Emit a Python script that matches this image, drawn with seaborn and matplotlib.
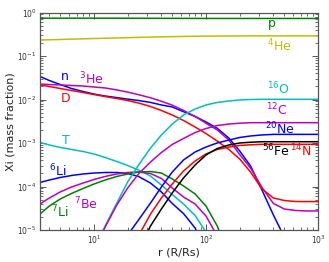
import numpy as np
import pandas as pd
import matplotlib
matplotlib.use("Agg")
import matplotlib.pyplot as plt
import seaborn as sns

# ---- data ----
r = [3.3, 4, 5, 6.3, 8, 10, 12.6, 16, 20, 25, 32, 40, 50, 63, 80, 100, 126, 160,
     200, 250, 316, 400, 500, 630, 800, 1000]
nan = np.nan
X_p = [0.74, 0.74, 0.74, 0.74, 0.74, 0.74, 0.74, 0.74, 0.738, 0.737, 0.736, 0.735, 0.734,
       0.733, 0.732, 0.731, 0.73, 0.73, 0.73, 0.73, 0.73, 0.73, 0.73, 0.73, 0.73, 0.73]
X_he4 = [0.233, 0.236, 0.240, 0.244, 0.248, 0.252, 0.256, 0.260, 0.264, 0.268, 0.272, 0.276,
         0.279, 0.282, 0.284, 0.286, 0.287, 0.288, 0.289, 0.29, 0.29, 0.29, 0.29, 0.29, 0.29, 0.29]
X_n = [0.0338, 0.0273, 0.0221, 0.0179, 0.0153, 0.01334, 0.01203, 0.01105, 0.0102, 0.00948,
       0.00856, 0.00749, 0.00673, 0.00525, 0.00407, 0.00305, 0.00218, 0.0013, 6.55e-4,
       2.96e-4, 8.3e-5, 2.21e-5, 6.9e-6, 2.0e-6, nan, nan]
X_he3 = [0.0227, 0.0221, 0.0216, 0.021, 0.0204, 0.0194, 0.0184, 0.0166, 0.0148, 0.0129,
         0.01096, 0.00912, 0.00741, 0.00562, 0.00407, 0.00285, 0.0020, 0.00117, 5.44e-4,
         2.66e-4, 9.5e-5, 4.07e-5, 3.04e-5, 2.81e-5, 2.74e-5, 2.74e-5]
X_d = [0.0216, 0.0199, 0.0179, 0.0161, 0.0145, 0.0130, 0.0117, 0.01054, 0.00948, 0.00831,
       0.0069, 0.00559, 0.0044, 0.00329, 0.00233, 0.00165, 0.00111, 7.1e-4, 4.29e-4,
       2.15e-4, 8.8e-5, 5.44e-5, 4.77e-5, 4.52e-5, 4.5e-5, 4.5e-5]
X_t = [1.03e-3, 9.0e-4, 7.9e-4, 7.1e-4, 6.38e-4, 5.59e-4, 4.64e-4, 3.76e-4, 3.04e-4, 2.39e-4,
       1.74e-4, 1.08e-4, 6.55e-5, 3.96e-5, 2.15e-5, 9.0e-6, 2.04e-6, nan, nan, nan, nan,
       nan, nan, nan, nan, nan]
X_li6 = [1.24e-4, 1.41e-4, 1.61e-4, 1.79e-4, 1.94e-4, 2.04e-4, 2.10e-4, 2.10e-4, 1.99e-4,
         1.70e-4, 1.20e-4, 7.48e-5, 4.07e-5, 2.39e-5, 1.11e-5, 3.1e-6, nan, nan, nan, nan,
         nan, nan, nan, nan, nan, nan]
X_be7 = [3.96e-5, 5.44e-5, 7.48e-5, 9.75e-5, 1.20e-4, 1.45e-4, 1.70e-4, 1.94e-4, 2.10e-4,
         2.15e-4, 1.99e-4, 1.53e-4, 9.24e-5, 5.74e-5, 3.96e-5, 2.10e-5, 7.3e-6, nan, nan,
         nan, nan, nan, nan, nan, nan, nan]
X_li7 = [2.33e-5, 3.56e-5, 5.16e-5, 6.9e-5, 9.0e-5, 1.14e-4, 1.41e-4, 1.70e-4, 1.94e-4,
         2.15e-4, 2.21e-4, 2.04e-4, 1.49e-4, 1.03e-4, 6.73e-5, 3.56e-5, 1.24e-5, 2.66e-6,
         nan, nan, nan, nan, nan, nan, nan, nan]
X_o16 = [nan, nan, nan, nan, nan, 3.5e-6, 1.24e-5, 4.18e-5, 1.27e-4, 3.12e-4, 7.67e-4,
         1.53e-3, 2.73e-3, 4.4e-3, 6.05e-3, 7.48e-3, 8.54e-3, 9.24e-3, 9.75e-3, 0.0100,
         0.0101, 0.0101, 0.0101, 0.0101, 0.0101, 0.0101]
X_c12 = [nan, nan, nan, nan, nan, 3.5e-6, 1.17e-5, 3.76e-5, 9.24e-5, 1.94e-4, 3.66e-4,
         6.05e-4, 9.25e-4, 1.27e-3, 1.74e-3, 2.15e-3, 2.52e-3, 2.73e-3, 2.85e-3, 2.93e-3,
         2.93e-3, 2.93e-3, 2.93e-3, 2.93e-3, 2.93e-3, 2.93e-3]
X_ne20 = [nan, nan, nan, nan, nan, nan, nan, nan, 7.7e-6, 1.70e-5, 4.18e-5, 9.75e-5,
          2.15e-4, 4.07e-4, 6.21e-4, 8.09e-4, 1.0e-3, 1.17e-3, 1.34e-3, 1.45e-3, 1.53e-3,
          1.58e-3, 1.58e-3, 1.58e-3, 1.58e-3, 1.58e-3]
X_n14 = [nan, nan, nan, nan, nan, nan, nan, nan, nan, 7.3e-6, 2.33e-5, 5.44e-5, 1.14e-4,
         2.27e-4, 3.86e-4, 5.59e-4, 7.1e-4, 8.09e-4, 8.77e-4, 9.1e-4, 9.33e-4, 9.33e-4,
         9.33e-4, 9.33e-4, 9.33e-4, 9.33e-4]
X_fe56 = [nan, nan, nan, nan, nan, nan, nan, nan, nan, 3.5e-6, 1.24e-5, 3.04e-5, 7.1e-5,
          1.57e-4, 3.12e-4, 5.3e-4, 7.48e-4, 9.0e-4, 1.0e-3, 1.04e-3, 1.07e-3, 1.07e-3,
          1.07e-3, 1.07e-3, 1.07e-3, 1.07e-3]

species = ["p", "He4", "n", "He3", "D", "T", "Li6", "Be7", "Li7", "O16", "C12", "Ne20",
           "N14", "Fe56"]
values = [X_p, X_he4, X_n, X_he3, X_d, X_t, X_li6, X_be7, X_li7, X_o16, X_c12, X_ne20,
          X_n14, X_fe56]
colors = {"p": "g", "He4": "y", "n": "b", "He3": "m", "D": "r", "T": "c",
          "Li6": "b", "Be7": "m", "Li7": "g", "O16": "c", "C12": "m", "Ne20": "b",
          "N14": "r", "Fe56": "k"}

frames = [pd.DataFrame({"r": r, "X": v, "species": s}) for s, v in zip(species, values)]
df = pd.concat(frames, ignore_index=True).dropna()

# ---- figure ----
sns.set_style("ticks")
plt.rcParams["font.family"] = ["DejaVu Sans"]
fig = plt.figure(figsize=(3.29, 2.62), dpi=100)
ax = fig.add_axes([40 / 329, 32 / 262, 278 / 329, 217.5 / 262])
ax.set_xscale("log")
ax.set_yscale("log")

pal = {s: matplotlib.colors.to_hex(colors[s]) for s in species}
sns.lineplot(data=df, x="r", y="X", hue="species", units="species", estimator=None,
             sort=False, palette=pal, legend=False, linewidth=1.1, ax=ax)

ax.set_xlim(3.3, 1000)
ax.set_ylim(1e-5, 1)
ax.set_xlabel("r (R/Rs)", fontsize=8, color="#222222", labelpad=1)
ax.set_ylabel("Xi (mass fraction)", fontsize=8, color="#222222", labelpad=1)

for sp in ax.spines.values():
    sp.set_color("#555555")
    sp.set_linewidth(0.9)
ax.tick_params(which="both", direction="in", top=True, right=True, colors="#555555",
               labelcolor="#333333", labelsize=5.5, pad=2.5)
ax.tick_params(which="major", length=4.5, width=0.7)
ax.tick_params(which="minor", length=2.2, width=0.6)
ax.yaxis.set_minor_locator(matplotlib.ticker.LogLocator(base=10, subs=np.arange(2, 10), numticks=20))
ax.xaxis.set_minor_locator(matplotlib.ticker.LogLocator(base=10, subs=np.arange(2, 10), numticks=20))

def px(x, y):
    return ((x - 40) / 278, (230 - y) / 217.5)

labels = [
    ("p", "g", 272, 23),
    (r"$^{4}$He", "y", 279, 46),
    (r"$^{16}$O", "c", 278, 89),
    (r"$^{12}$C", "m", 277, 110),
    (r"$^{20}$Ne", "b", 280, 129),
    (r"$^{56}$Fe", "k", 276, 151),
    (r"$^{14}$N", "r", 301, 151),
    ("n", "b", 65, 76),
    (r"$^{3}$He", "m", 91, 79),
    ("D", "r", 66, 98),
    ("T", "c", 66, 141),
    (r"$^{6}$Li", "b", 58, 171),
    (r"$^{7}$Be", "m", 86, 204),
    (r"$^{7}$Li", "g", 60, 212),
]
for txt, c, x, y in labels:
    fx, fy = px(x, y)
    ax.text(fx, fy, txt, color=c, fontsize=9, ha="center", va="center",
            transform=ax.transAxes)

fig.savefig("out.png", dpi=100)
